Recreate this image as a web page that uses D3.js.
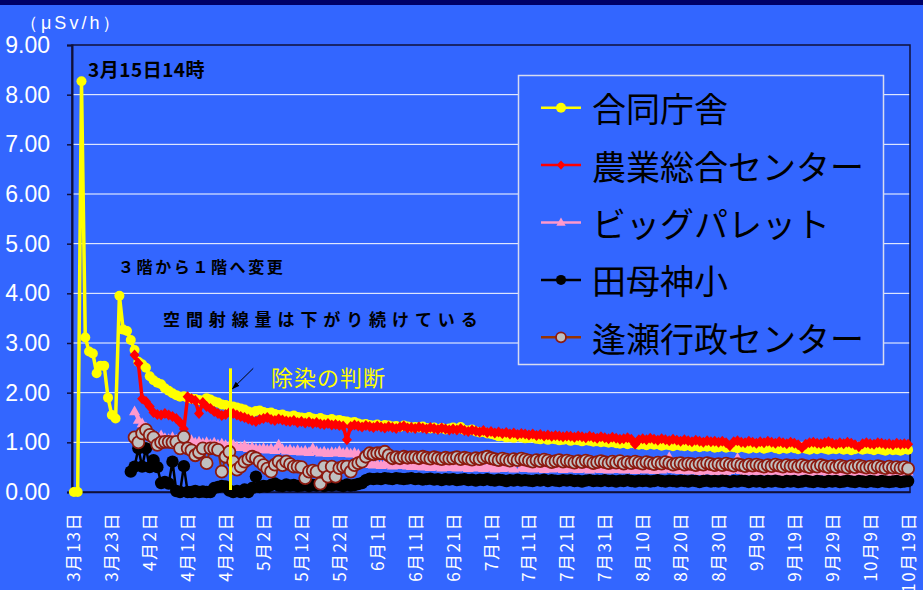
<!DOCTYPE html>
<html>
<head>
<meta charset="utf-8">
<script src="https://cdn.jsdelivr.net/npm/d3@7"></script>
<style>
  body { margin: 0; background: #3366ff; }
  svg { display: block; }
</style>
</head>
<body>
<svg id="chart" width="923" height="590"></svg>
<script>
// Daily air dose rate (μSv/h) at five monitoring points, 13 March – 19 October
const dates = d3.timeDay.range(new Date(2011, 2, 13), new Date(2011, 9, 20)); // 221 days

const tickLabels = ["3月13日","3月23日","4月2日","4月12日","4月22日","5月2日","5月12日","5月22日",
  "6月1日","6月11日","6月21日","7月1日","7月11日","7月21日","7月31日","8月10日","8月20日",
  "8月30日","9月9日","9月19日","9月29日","10月9日","10月19日"];

const yTicks = [0, 1, 2, 3, 4, 5, 6, 7, 8, 9];

const seriesNames = ["合同庁舎", "農業総合センター", "ビッグパレット", "田母神小", "逢瀬行政センター"];

const godoChosha = [
  0, 0, 8.27, 3.11, 2.83, 2.79, 2.39, 2.54, 2.54, 1.90,
  1.55, 1.48, 3.95, 3.27, 3.24, 3.06, 2.86, 2.62, 2.57, 2.50,
  2.33, 2.25, 2.20, 2.17, 2.09, 2.04, 1.99, 1.95, 1.92, 1.93,
  1.90, 1.88, 1.87, 1.85, 1.84, 1.89, 1.86, 1.82, 1.80, 1.76,
  1.75, 1.73, 1.72, 1.70, 1.68, 1.66, 1.62, 1.60, 1.63, 1.64,
  1.61, 1.59, 1.60, 1.57, 1.55, 1.56, 1.53, 1.52, 1.54, 1.51,
  1.50, 1.49, 1.51, 1.48, 1.47, 1.49, 1.46, 1.45, 1.47, 1.44,
  1.45, 1.43, 1.42, 1.40, 1.41, 1.38, 1.36, 1.37, 1.35, 1.34,
  1.36, 1.33, 1.35, 1.34, 1.32, 1.33, 1.31, 1.34, 1.32, 1.30,
  1.31, 1.30, 1.32, 1.29, 1.28, 1.30, 1.27, 1.29, 1.26, 1.28,
  1.30, 1.27, 1.31, 1.25, 1.24, 1.26, 1.22, 1.20, 1.21, 1.18,
  1.17, 1.15, 1.12, 1.13, 1.10, 1.11, 1.09, 1.12, 1.10, 1.08,
  1.09, 1.10, 1.07, 1.06, 1.08, 1.05, 1.07, 1.06, 1.04, 1.05,
  1.06, 1.03, 1.05, 1.04, 1.02, 1.04, 1.03, 1.01, 1.02, 1.00,
  1.01, 0.99, 1.00, 0.98, 0.97, 0.99, 0.96, 0.98, 0.97, 0.95,
  0.96, 0.94, 0.97, 0.95, 0.96, 0.93, 0.95, 0.94, 0.92, 0.95,
  0.93, 0.92, 0.94, 0.91, 0.93, 0.90, 0.92, 0.91, 0.93, 0.89,
  0.90, 0.92, 0.89, 0.91, 0.90, 0.88, 0.91, 0.89, 0.87, 0.90,
  0.88, 0.90, 0.87, 0.89, 0.91, 0.88, 0.86, 0.89, 0.87, 0.90,
  0.88, 0.86, 0.89, 0.87, 0.85, 0.88, 0.86, 0.89, 0.87, 0.85,
  0.87, 0.86, 0.88, 0.85, 0.87, 0.84, 0.86, 0.88, 0.85, 0.87,
  0.86, 0.84, 0.87, 0.85, 0.83, 0.86, 0.84, 0.85, 0.83, 0.86,
  0.85
];

const nogyoCenter = [
  null, null, null, null, null, null, null, null, null, null,
  null, null, null, null, null, null, 2.76, 2.59, 1.88, 1.82,
  1.72, 1.60, 1.56, 1.55, 1.58, 1.55, 1.52, 1.48, 1.40, 1.27,
  1.92, 1.88, 1.84, 1.58, 1.80, 1.72, 1.68, 1.62, 1.58, 1.54,
  1.56, 1.60, 1.58, 1.55, 1.52, 1.50, 1.47, 1.44, 1.42, 1.46,
  1.48, 1.50, 1.46, 1.44, 1.47, 1.45, 1.43, 1.42, 1.44, 1.40,
  1.42, 1.39, 1.41, 1.38, 1.40, 1.37, 1.36, 1.38, 1.35, 1.36,
  1.34, 1.33, 1.05, 1.32, 1.35, 1.33, 1.31, 1.34, 1.32, 1.30,
  1.33, 1.31, 1.29, 1.32, 1.30, 1.28, 1.31, 1.33, 1.29, 1.30,
  1.28, 1.31, 1.29, 1.27, 1.30, 1.28, 1.26, 1.29, 1.27, 1.25,
  1.27, 1.25, 1.28, 1.24, 1.22, 1.25, 1.23, 1.21, 1.24, 1.20,
  1.22, 1.19, 1.21, 1.18, 1.20, 1.17, 1.19, 1.16, 1.18, 1.17,
  1.15, 1.17, 1.14, 1.16, 1.13, 1.15, 1.12, 1.14, 1.13, 1.11,
  1.13, 1.12, 1.10, 1.13, 1.11, 1.09, 1.12, 1.10, 1.08, 1.11,
  1.09, 1.07, 1.10, 1.08, 1.06, 1.07, 1.09, 1.06, 0.96, 1.05,
  1.07, 1.05, 1.08, 1.06, 1.04, 1.07, 1.05, 1.03, 1.06, 1.04,
  1.02, 1.05, 1.03, 1.01, 1.04, 1.02, 1.00, 1.03, 1.01, 1.02,
  1.00, 1.02, 0.99, 0.93, 1.01, 1.03, 1.00, 0.99, 1.02, 1.00,
  0.98, 1.01, 0.99, 1.02, 1.00, 0.98, 1.01, 0.99, 0.97, 1.00,
  0.98, 0.95, 0.89, 0.96, 0.99, 1.00, 0.98, 0.97, 0.99, 1.01,
  0.98, 0.96, 0.99, 0.97, 1.00, 0.98, 0.95, 0.91, 0.97, 0.99,
  0.97, 0.96, 0.99, 0.98, 0.96, 0.97, 0.95, 0.98, 0.96, 0.97,
  0.96
];

const bigPalette = [
  null, null, null, null, null, null, null, null, null, null,
  null, null, null, null, null, null, 1.62, 1.45, 1.38, 1.30,
  1.20, 1.12, 1.10, 1.14, 1.08, 1.06, 1.10, 1.05, 1.03, 1.07,
  1.02, 1.04, 0.99, 1.01, 0.98, 1.00, 0.96, 0.99, 0.95, 0.97,
  0.94, 0.92, 0.95, 0.91, 0.90, 0.93, 0.88, 0.90, 0.87, 0.86,
  0.88, 0.85, 0.87, 0.84, 0.95, 0.86, 0.83, 0.85, 0.82, 0.84,
  0.81, 0.83, 0.80, 0.88, 0.82, 0.79, 0.81, 0.78, 0.80, 0.79,
  0.82, 0.78, 0.80, 0.77, 0.79, 0.76, 0.58, 0.56, 0.57, 0.55,
  0.56, 0.54, 0.57, 0.55, 0.53, 0.56, 0.54, 0.55, 0.53, 0.52,
  0.54, 0.52, 0.51, 0.53, 0.50, 0.52, 0.51, 0.49, 0.52, 0.50,
  0.51, 0.49, 0.50, 0.52, 0.48, 0.50, 0.49, 0.51, 0.48, 0.50,
  0.49, 0.47, 0.50, 0.48, 0.49, 0.51, 0.47, 0.60, 0.49, 0.48,
  0.50, 0.47, 0.49, 0.48, 0.46, 0.49, 0.47, 0.50, 0.48, 0.46,
  0.48, 0.47, 0.49, 0.46, 0.48, 0.47, 0.45, 0.48, 0.47, 0.46,
  0.48, 0.45, 0.47, 0.46, 0.48, 0.45, 0.47, 0.46, 0.44, 0.47,
  0.46, 0.45, 0.47, 0.44, 0.46, 0.45, 0.47, 0.70, 0.46, 0.45,
  0.44, 0.46, 0.43, 0.45, 0.44, 0.42, 0.45, 0.43, 0.44, 0.42,
  0.43, 0.45, 0.42, 0.44, 0.46, 0.68, 0.44, 0.42, 0.43, 0.41,
  0.43, 0.42, 0.44, 0.41, 0.43, 0.42, 0.40, 0.43, 0.41, 0.42,
  0.40, 0.42, 0.41, 0.43, 0.40, 0.42, 0.41, 0.55, 0.42, 0.40,
  0.41, 0.43, 0.40, 0.42, 0.39, 0.41, 0.40, 0.42, 0.39, 0.41,
  0.40, 0.39, 0.41, 0.40, 0.42, 0.39, 0.40, 0.41, 0.39, 0.40,
  0.41
];

const tamogamiSho = [
  null, null, null, null, null, null, null, null, null, null,
  null, null, null, null, null, 0.41, 0.51, 0.88, 0.51, 0.88,
  0.50, 0.64, 0.50, 0.18, 0.20, 0.17, 0.61, 0.02, 0.00, 0.52,
  0.00, 0.00, 0.02, 0.00, 0.01, 0.00, 0.00, 0.08, 0.10, 0.12,
  0.11, 0.03, 0.00, 0.02, 0.00, 0.05, 0.00, 0.08, 0.31, 0.10,
  0.12, 0.11, 0.14, 0.17, 0.13, 0.12, 0.15, 0.13, 0.14, 0.12,
  0.13, 0.15, 0.12, 0.14, 0.13, 0.15, 0.12, 0.14, 0.13, 0.15,
  0.14, 0.12, 0.15, 0.13, 0.14, 0.16, 0.18, 0.24, 0.27, 0.26,
  0.27, 0.26, 0.28, 0.27, 0.26, 0.28, 0.27, 0.26, 0.27, 0.28,
  0.26, 0.27, 0.25, 0.26, 0.27, 0.25, 0.26, 0.24, 0.26, 0.25,
  0.26, 0.24, 0.25, 0.26, 0.24, 0.25, 0.23, 0.25, 0.24, 0.26,
  0.24, 0.23, 0.25, 0.24, 0.22, 0.24, 0.23, 0.25, 0.23, 0.24,
  0.23, 0.22, 0.24, 0.23, 0.25, 0.22, 0.24, 0.23, 0.22, 0.24,
  0.23, 0.24, 0.22, 0.23, 0.21, 0.23, 0.24, 0.22, 0.23, 0.22,
  0.24, 0.22, 0.23, 0.21, 0.23, 0.22, 0.24, 0.22, 0.21, 0.23,
  0.22, 0.23, 0.21, 0.22, 0.24, 0.22, 0.21, 0.23, 0.22, 0.21,
  0.23, 0.22, 0.21, 0.23, 0.22, 0.20, 0.22, 0.23, 0.21, 0.22,
  0.21, 0.23, 0.22, 0.20, 0.22, 0.21, 0.23, 0.22, 0.20, 0.22,
  0.21, 0.22, 0.20, 0.22, 0.21, 0.23, 0.21, 0.20, 0.22, 0.21,
  0.22, 0.20, 0.21, 0.23, 0.21, 0.20, 0.22, 0.21, 0.20, 0.22,
  0.21, 0.22, 0.20, 0.21, 0.23, 0.21, 0.20, 0.22, 0.21, 0.20,
  0.22, 0.21, 0.20, 0.22, 0.21, 0.20, 0.21, 0.22, 0.20, 0.21,
  0.22
];

const ouseCenter = [
  null, null, null, null, null, null, null, null, null, null,
  null, null, null, null, null, null, 1.10, 1.00, 1.18, 1.25,
  1.15, 1.10, 0.95, 1.00, 1.01, 1.01, 1.00, 1.01, 0.88, 1.11,
  0.88, 0.84, 0.74, 0.80, 0.88, 0.58, 0.88, 0.88, 0.85, 0.41,
  0.71, 0.81, 0.61, 0.45, 0.51, 0.61, 0.66, 0.71, 0.68, 0.61,
  0.54, 0.47, 0.41, 0.55, 0.61, 0.54, 0.61, 0.56, 0.51, 0.51,
  0.50, 0.28, 0.41, 0.43, 0.41, 0.17, 0.51, 0.31, 0.51, 0.31,
  0.48, 0.51, 0.51, 0.41, 0.54, 0.58, 0.61, 0.71, 0.78, 0.76,
  0.78, 0.78, 0.81, 0.74, 0.68, 0.70, 0.68, 0.71, 0.69, 0.70,
  0.70, 0.68, 0.71, 0.69, 0.67, 0.70, 0.68, 0.66, 0.69, 0.67,
  0.68, 0.70, 0.66, 0.69, 0.67, 0.65, 0.68, 0.66, 0.69, 0.71,
  0.68, 0.66, 0.64, 0.67, 0.65, 0.63, 0.66, 0.64, 0.67, 0.65,
  0.63, 0.61, 0.64, 0.62, 0.65, 0.63, 0.60, 0.62, 0.64, 0.61,
  0.63, 0.61, 0.59, 0.62, 0.60, 0.63, 0.61, 0.58, 0.60, 0.62,
  0.60, 0.58, 0.61, 0.59, 0.62, 0.57, 0.60, 0.58, 0.61, 0.59,
  0.57, 0.60, 0.58, 0.56, 0.59, 0.57, 0.60, 0.58, 0.55, 0.57,
  0.58, 0.55, 0.57, 0.56, 0.54, 0.57, 0.55, 0.58, 0.56, 0.54,
  0.56, 0.54, 0.57, 0.55, 0.53, 0.56, 0.54, 0.52, 0.55, 0.53,
  0.55, 0.53, 0.51, 0.54, 0.52, 0.55, 0.53, 0.51, 0.54, 0.52,
  0.53, 0.51, 0.54, 0.52, 0.50, 0.53, 0.51, 0.54, 0.52, 0.50,
  0.52, 0.50, 0.53, 0.51, 0.49, 0.52, 0.50, 0.53, 0.51, 0.49,
  0.51, 0.49, 0.52, 0.50, 0.48, 0.51, 0.49, 0.50, 0.48, 0.50,
  0.47
];

// ---------------------------------------------------------------------------
const W = 923, H = 590;
const plot = { left: 72, right: 910, top: 45, bottom: 492 };
const BG = "#3366ff";
const jpFont = "'Noto Sans CJK JP', 'Noto Sans', sans-serif";
const numFont = "'Liberation Sans', Arial, sans-serif";

const svg = d3.select("#chart");
svg.append("rect").attr("width", W).attr("height", H).attr("fill", BG);
svg.append("rect").attr("width", W).attr("height", 5).attr("fill", "#000066");

const x = d3.scaleLinear().domain([-0.5, dates.length - 0.5]).range([plot.left, plot.right]);
const y = d3.scaleLinear().domain([0, 9]).range([plot.bottom, plot.top]);

// horizontal gridlines
svg.append("g")
  .selectAll("line")
  .data(yTicks.filter(v => v > 0 && v < 9))
  .join("line")
  .attr("x1", plot.left).attr("x2", plot.right)
  .attr("y1", d => y(d)).attr("y2", d => y(d))
  .attr("stroke", "#ffffff").attr("stroke-width", 1);

// plot frame
svg.append("rect")
  .attr("x", plot.left).attr("y", plot.top)
  .attr("width", plot.right - plot.left).attr("height", plot.bottom - plot.top)
  .attr("fill", "none").attr("stroke", "#10103a").attr("stroke-width", 1.5);

// y axis
const yAxis = svg.append("g")
  .attr("transform", `translate(${plot.left},0)`)
  .call(d3.axisLeft(y).tickValues(yTicks).tickFormat(d3.format(".2f")).tickSize(5).tickPadding(17));
yAxis.select(".domain").attr("stroke", "#10103a").attr("stroke-width", 2);
yAxis.selectAll(".tick line").attr("stroke", "#10103a").attr("stroke-width", 1.5);
yAxis.selectAll(".tick text")
  .attr("fill", "#ffffff")
  .style("font-family", numFont).style("font-size", "23px");

// unit label
svg.append("text")
  .attr("x", 20).attr("y", 29)
  .attr("fill", "#ffffff")
  .style("font-family", numFont).style("font-size", "18px")
  .style("letter-spacing", "3px")
  .text("（μSv/h）");

// x axis (category per day, labelled every 10 days)
const xAxis = svg.append("g")
  .attr("transform", `translate(0,${plot.bottom})`)
  .call(d3.axisBottom(x).tickValues(d3.range(0, dates.length, 10))
    .tickFormat((d, i) => tickLabels[i]).tickSize(0).tickPadding(0));
xAxis.select(".domain").attr("stroke", "#10103a").attr("stroke-width", 1.5);
xAxis.selectAll(".tick text")
  .attr("y", 0).attr("dy", null)
  .attr("text-anchor", "end")
  .attr("dominant-baseline", "central")
  .attr("transform", "translate(-1.5,20) rotate(-90)")
  .attr("fill", "#ffffff")
  .style("font-family", jpFont).style("font-size", "17px")
  .style("letter-spacing", "1.5px");

// ---------------------------------------------------------------------------
// series
const markerPaths = {
  diamond: "M0,-5.5L5,0L0,5.5L-5,0Z",
  triangle: "M0,-6L5.5,3.8L-5.5,3.8Z"
};

const series = [
  { name: seriesNames[0], values: godoChosha,  line: "#ffff00", width: 3.5, marker: "circle",  r: 5,   fill: "#ffff00", stroke: "none", sw: 0 },
  { name: seriesNames[1], values: nogyoCenter, line: "#ff0000", width: 3.5, marker: "diamond", fill: "#ff0000", stroke: "none", sw: 0 },
  { name: seriesNames[2], values: bigPalette,  line: "#ff99cc", width: 3,   marker: "triangle", fill: "#ff99cc", stroke: "none", sw: 0 },
  { name: seriesNames[3], values: tamogamiSho, line: "#000000", width: 2.5, marker: "circle",  r: 6.2, fill: "#000000", stroke: "none", sw: 0 },
  { name: seriesNames[4], values: ouseCenter,  line: "#993300", width: 2,   marker: "circle",  r: 6,   fill: "#c0c0c0", stroke: "#8c1a10", sw: 1.8 }
];

const lineGen = d3.line()
  .defined(d => d.v != null)
  .x(d => x(d.i))
  .y(d => y(d.v));

const plotG = svg.append("g");
series.forEach(s => {
  const pts = s.values.map((v, i) => ({ i, v }));
  const g = plotG.append("g");
  g.append("path")
    .datum(pts)
    .attr("d", lineGen)
    .attr("fill", "none")
    .attr("stroke", s.line)
    .attr("stroke-width", s.width)
    .attr("stroke-linejoin", "round");
  const valid = pts.filter(d => d.v != null);
  if (s.marker === "circle") {
    g.selectAll("circle").data(valid).join("circle")
      .attr("cx", d => x(d.i)).attr("cy", d => y(d.v)).attr("r", s.r)
      .attr("fill", s.fill).attr("stroke", s.stroke).attr("stroke-width", s.sw);
  } else {
    g.selectAll("path.m").data(valid).join("path").attr("class", "m")
      .attr("d", markerPaths[s.marker])
      .attr("transform", d => `translate(${x(d.i)},${y(d.v)})`)
      .attr("fill", s.fill);
  }
});

// ---------------------------------------------------------------------------
// annotations
const annot = svg.append("g");
annot.append("text")
  .attr("x", 88).attr("y", 77)
  .style("font-family", jpFont).style("font-size", "19px").style("font-weight", "bold")
  .style("letter-spacing", "0.5px")
  .attr("fill", "#000000")
  .text("3月15日14時");

annot.append("text")
  .attr("x", 118).attr("y", 273)
  .style("font-family", jpFont).style("font-size", "16px").style("font-weight", "bold")
  .style("letter-spacing", "2.6px")
  .attr("fill", "#000000")
  .text("３階から１階へ変更");

annot.append("text")
  .attr("x", 163).attr("y", 326)
  .style("font-family", jpFont).style("font-size", "17px").style("font-weight", "bold")
  .style("letter-spacing", "5.9px")
  .attr("fill", "#000000")
  .text("空間射線量は下がり続けている");

annot.append("text")
  .attr("x", 271).attr("y", 386)
  .style("font-family", jpFont).style("font-size", "22px")
  .style("letter-spacing", "1px")
  .attr("fill", "#ffff00")
  .text("除染の判断");

// decontamination decision marker
const deconDay = 41.3;
annot.append("line")
  .attr("x1", x(deconDay)).attr("x2", x(deconDay))
  .attr("y1", y(2.49)).attr("y2", y(0.04))
  .attr("stroke", "#ffff00").attr("stroke-width", 3);

svg.append("defs").append("marker")
  .attr("id", "arrowHead")
  .attr("viewBox", "0 0 10 10").attr("refX", 9).attr("refY", 5)
  .attr("markerWidth", 8).attr("markerHeight", 8)
  .attr("orient", "auto")
  .append("path").attr("d", "M0,1.5L10,5L0,8.5Z").attr("fill", "#000000");

annot.append("line")
  .attr("x1", x(47.3)).attr("y1", y(2.49))
  .attr("x2", x(deconDay) + 2).attr("y2", y(2.08))
  .attr("stroke", "#000000").attr("stroke-width", 1)
  .attr("marker-end", "url(#arrowHead)");

// ---------------------------------------------------------------------------
// legend
const legend = svg.append("g");
legend.append("rect")
  .attr("x", 518.5).attr("y", 75.5).attr("width", 365).attr("height", 289)
  .attr("fill", BG).attr("stroke", "#d8dcf0").attr("stroke-width", 1.5);

const rowY = d3.scaleLinear().domain([0, 4]).range([107.7, 337.3]);
series.forEach((s, k) => {
  const ry = rowY(k);
  const row = legend.append("g");
  row.append("line")
    .attr("x1", 541).attr("x2", 581).attr("y1", ry).attr("y2", ry)
    .attr("stroke", s.line).attr("stroke-width", 2.5);
  if (s.marker === "circle") {
    row.append("circle").attr("cx", 561).attr("cy", ry).attr("r", Math.min(s.r, 5))
      .attr("fill", s.fill).attr("stroke", s.stroke).attr("stroke-width", s.sw);
  } else {
    row.append("path").attr("d", markerPaths[s.marker])
      .attr("transform", `translate(561,${ry}) scale(0.85)`).attr("fill", s.fill);
  }
  row.append("text")
    .attr("x", 592).attr("y", ry)
    .attr("dominant-baseline", "central")
    .style("font-family", jpFont).style("font-size", "34px")
    .attr("fill", "#000000")
    .text(s.name);
});
</script>
</body>
</html>
